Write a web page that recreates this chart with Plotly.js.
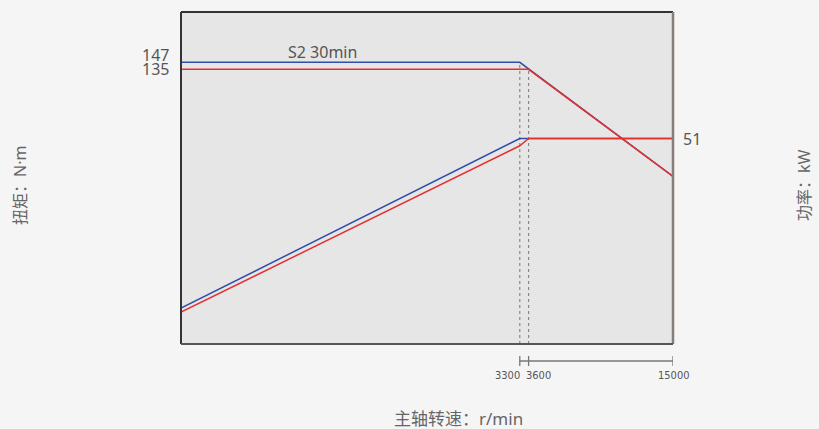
<!DOCTYPE html>
<html>
<head>
<meta charset="utf-8">
<script src="https://cdn.plot.ly/plotly-3.0.1.min.js"></script>
<style>html,body{margin:0;padding:0;background:#f5f5f5;}#chart{width:819px;height:429px;}</style>
</head>
<body>
<div id="chart"></div>
<script>
// ---- data (schematic speed / torque / power curves) ----
const speedS2 = [116, 3300, 15000];      // r/min
const torqueS2 = [147, 147, 36.6];       // N·m
const speedS1 = [116, 3600, 15000];
const torqueS1 = [135, 135, 36.6];
const powerSpeedS2 = [116, 3300, 15000];
const powerS2 = [8.9, 51, 51];           // kW
const powerSpeedS1 = [116, 3300, 3600, 15000];
const powerS1 = [7.9, 49.2, 51, 51];
const cornerSpeeds = [3300, 3600];
const cornerTorques = [147, 135];
const xTickVals = [3300, 3600, 15000];
const xTickText = ['3300', '3600', '15000'];
const torqueTickVals = [147, 135];
const powerTickVals = [51];
const seriesLabel = 'S2 30min';

const BLUE = '#2f4fa8', RED = '#e53030';
const txtFont = {family: 'Noto Sans, Noto Sans CJK SC, sans-serif', size: 16, color: '#555'};
const titleFont = {family: 'Noto Sans, Noto Sans CJK SC, sans-serif', size: 16, color: '#666'};
const narrowFont = {family: 'Liberation Sans Narrow, DejaVu Sans Condensed, Noto Sans, sans-serif', size: 11, color: '#555'};

const xRange = [Math.log10(116), Math.log10(15000)];
const yRange = [0.6769, 2.4335];
const y2Range = [0, 82.4];

const traces = [
  {x: speedS2, y: torqueS2, mode: 'lines', line: {color: BLUE, width: 1.5}, xaxis: 'x', yaxis: 'y', hoverinfo: 'skip'},
  {x: powerSpeedS2, y: powerS2, mode: 'lines', line: {color: BLUE, width: 1.5}, xaxis: 'x', yaxis: 'y2', hoverinfo: 'skip'},
  {x: speedS1, y: torqueS1, mode: 'lines', line: {color: RED, width: 1.5}, xaxis: 'x', yaxis: 'y', hoverinfo: 'skip'},
  {x: powerSpeedS1, y: powerS1, mode: 'lines', line: {color: RED, width: 1.5}, xaxis: 'x', yaxis: 'y2', hoverinfo: 'skip'}
];

const shapes = [];
// dashed corner-speed guides
cornerSpeeds.forEach((s, i) => {
  shapes.push({type: 'line', xref: 'x', yref: 'y', x0: s, x1: s, y0: Math.pow(10, yRange[0]), y1: cornerTorques[i],
    line: {color: '#888', width: 1.2, dash: '3px,3px'}, layer: 'below'});
});
// frame
shapes.push({type: 'line', xref: 'paper', yref: 'paper', x0: 0, x1: 0, y0: 0, y1: 1, line: {color: '#333', width: 2}});
shapes.push({type: 'line', xref: 'paper', yref: 'paper', x0: 0, x1: 1, y0: 1, y1: 1, line: {color: '#333', width: 2}});
shapes.push({type: 'line', xref: 'paper', yref: 'paper', x0: 1, x1: 1, y0: 0, y1: 1, line: {color: '#857e7a', width: 2.5}});
shapes.push({type: 'line', xref: 'paper', yref: 'paper', x0: 0, x1: 1, y0: 0, y1: 0, line: {color: '#5a5555', width: 2}});
// speed scale below the plot
shapes.push({type: 'line', xref: 'x', yref: 'paper', x0: xTickVals[0], x1: xTickVals[xTickVals.length - 1], y0: -0.0512, y1: -0.0512, line: {color: '#777', width: 1.3}});
xTickVals.forEach(v => {
  shapes.push({type: 'line', xref: 'x', yref: 'paper', x0: v, x1: v, y0: -0.0361, y1: -0.0663, line: {color: '#777', width: 1.3}});
});

const annotations = [];
// x tick labels
annotations.push({xref: 'x', yref: 'paper', x: Math.log10(xTickVals[0]), y: -0.0934, text: xTickText[0], showarrow: false, xanchor: 'right', yanchor: 'middle', xshift: 2, font: narrowFont});
annotations.push({xref: 'x', yref: 'paper', x: Math.log10(xTickVals[1]), y: -0.0934, text: xTickText[1], showarrow: false, xanchor: 'left', yanchor: 'middle', xshift: -5, font: narrowFont});
annotations.push({xref: 'x', yref: 'paper', x: Math.log10(xTickVals[2]), y: -0.0934, text: xTickText[2], showarrow: false, xanchor: 'center', yanchor: 'middle', font: narrowFont});
// torque tick labels
annotations.push({xref: 'paper', yref: 'y', x: -0.02, y: Math.log10(torqueTickVals[0]), text: String(torqueTickVals[0]), showarrow: false, xanchor: 'right', yanchor: 'middle', yshift: 7, font: txtFont});
annotations.push({xref: 'paper', yref: 'y', x: -0.02, y: Math.log10(torqueTickVals[1]), text: String(torqueTickVals[1]), showarrow: false, xanchor: 'right', yanchor: 'middle', font: txtFont});
// power tick label
annotations.push({xref: 'paper', yref: 'y2', x: 1.016, y: powerTickVals[0], text: String(powerTickVals[0]), showarrow: false, xanchor: 'left', yanchor: 'middle', font: txtFont});
// series label
annotations.push({xref: 'paper', yref: 'y', x: 0.2886, y: Math.log10(torqueS2[0]), text: seriesLabel, showarrow: false, xanchor: 'center', yanchor: 'middle', yshift: 10, font: txtFont});
// axis titles
annotations.push({xref: 'paper', yref: 'paper', x: -0.3272, y: 0.476, text: '扭矩：N·m', textangle: -90, showarrow: false, xanchor: 'center', yanchor: 'middle', font: titleFont});
annotations.push({xref: 'paper', yref: 'paper', x: 1.2663, y: 0.479, text: '功率：kW', textangle: -90, showarrow: false, xanchor: 'center', yanchor: 'middle', font: titleFont});
annotations.push({xref: 'paper', yref: 'paper', x: 0.565, y: -0.224, text: '主轴转速：r/min', showarrow: false, xanchor: 'center', yanchor: 'middle', font: Object.assign({}, titleFont, {size: 17})});

const hidden = {showgrid: false, zeroline: false, showticklabels: false, showline: false, ticks: ''};
const layout = {
  width: 819, height: 429,
  margin: {l: 181, r: 146, t: 12, b: 85, pad: 0},
  paper_bgcolor: '#f5f5f5', plot_bgcolor: '#e6e6e6',
  showlegend: false,
  xaxis: Object.assign({type: 'log', range: xRange, fixedrange: true}, hidden),
  yaxis: Object.assign({type: 'log', range: yRange, fixedrange: true}, hidden),
  yaxis2: Object.assign({type: 'linear', range: y2Range, overlaying: 'y', side: 'right', fixedrange: true}, hidden),
  shapes: shapes,
  annotations: annotations
};
Plotly.newPlot('chart', traces, layout, {displayModeBar: false, staticPlot: true});
</script>
</body>
</html>
